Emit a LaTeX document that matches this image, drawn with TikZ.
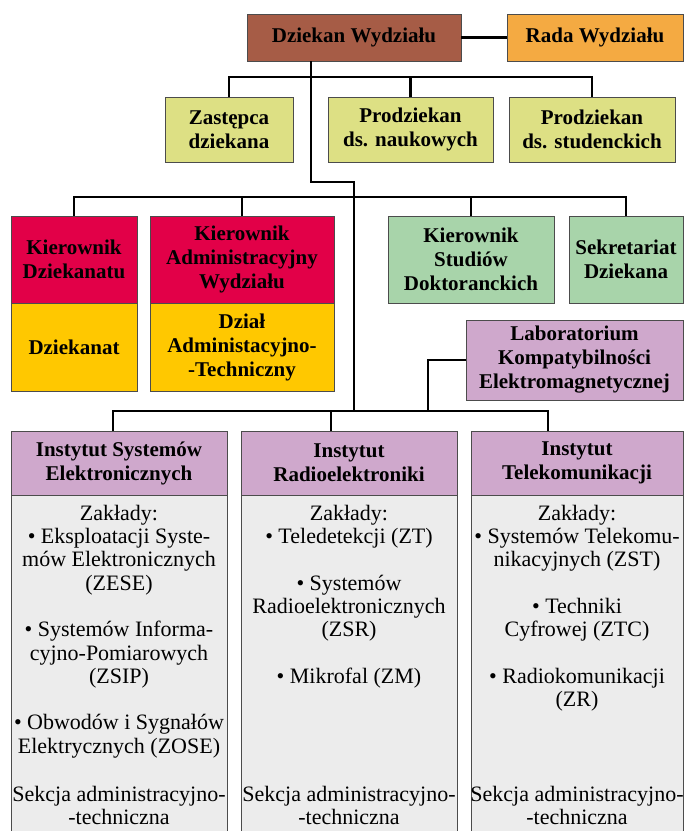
\documentclass[tikz,border=0pt]{standalone}
\usepackage{fontspec}
\setmainfont{Liberation Serif}
\definecolor{brownc}{RGB}{166,92,70}
\definecolor{orangec}{RGB}{244,170,66}
\definecolor{olivec}{RGB}{221,224,132}
\definecolor{redc}{RGB}{226,0,72}
\definecolor{yellowc}{RGB}{255,200,0}
\definecolor{greenc}{RGB}{168,212,170}
\definecolor{purplec}{RGB}{207,168,204}
\definecolor{grayc}{RGB}{236,236,236}
\begin{document}
\begin{tikzpicture}[x=1pt,y=-1pt,
  box/.style={draw=black!70, line width=0.9pt, outer sep=0pt, inner sep=1pt,
    align=center, anchor=north west, text=black,
    font=\fontsize{21}{24}\selectfont\bfseries},
  bodytext/.style={anchor=north, align=center, inner sep=0pt, text=black,
    font=\fontsize{22}{23.3}\selectfont},
  conn/.style={line width=2.4pt, black}]
\useasboundingbox (0,0) rectangle (684,831);
% top
\node[box,fill=brownc,minimum width=214pt,minimum height=47pt] (dziekan) at (247,14) {Dziekan Wydziału};
\node[box,fill=orangec,minimum width=176pt,minimum height=47pt] (rada) at (507,14) {Rada Wydziału};
\node[box,fill=olivec,minimum width=128pt,minimum height=65pt] (zast) at (165,97) {Zastępca\\dziekana};
\node[box,fill=olivec,minimum width=165pt,minimum height=65pt] (pnauk) at (328,97) {Prodziekan\\ds. naukowych};
\node[box,fill=olivec,minimum width=166pt,minimum height=65pt] (pstud) at (509,97) {Prodziekan\\ds. studenckich};
% second level
\node[box,fill=redc,minimum width=126pt,minimum height=87pt] (kdz) at (11,216) {Kierownik\\Dziekanatu};
\node[box,fill=yellowc,minimum width=126pt,minimum height=88pt] (dzt) at (11,303) {Dziekanat};
\node[box,fill=redc,minimum width=184pt,minimum height=87pt] (kadm) at (150,216) {Kierownik\\Administracyjny\\Wydziału};
\node[box,fill=yellowc,minimum width=184pt,minimum height=88pt] (dzial) at (150,303) {Dział\\Administacyjno-\\-Techniczny};
\node[box,fill=greenc,minimum width=166pt,minimum height=87pt] (ksd) at (388,216) {Kierownik\\Studiów\\Doktoranckich};
\node[box,fill=greenc,minimum width=114pt,minimum height=87pt] (sekr) at (569,216) {Sekretariat\\Dziekana};
\node[box,fill=purplec,minimum width=217pt,minimum height=80pt] (lab) at (466,320) {Laboratorium\\Kompatybilności\\Elektromagnetycznej};
% institutes
\node[box,fill=purplec,minimum width=216pt,minimum height=64pt] (i1h) at (11,431) {Instytut Systemów\\Elektronicznych};
\node[box,fill=purplec,minimum width=216pt,minimum height=64pt] (i2h) at (241,431) {Instytut\\Radioelektroniki};
\node[box,fill=purplec,minimum width=212pt,minimum height=64pt] (i3h) at (471,431) {Instytut\\Telekomunikacji};
\node[box,fill=grayc,minimum width=216pt,minimum height=345pt] (i1b) at (11,495) {};
\node[box,fill=grayc,minimum width=216pt,minimum height=345pt] (i2b) at (241,495) {};
\node[box,fill=grayc,minimum width=212pt,minimum height=345pt] (i3b) at (471,495) {};
\node[bodytext] (i1t) at (119,504) {\rule{0pt}{16pt}Zakłady:\\ • Eksploatacji Syste-\\ mów Elektronicznych\\ (ZESE)\\[23.3pt] • Systemów Informa-\\ cyjno-Pomiarowych\\ (ZSIP)\\[23.3pt] • Obwodów i Sygnałów\\ Elektrycznych (ZOSE)};
\node[bodytext] (i2t) at (349,504) {\rule{0pt}{16pt}Zakłady:\\ • Teledetekcji (ZT)\\[23.3pt] • Systemów\\ Radioelektronicznych\\ (ZSR)\\[23.3pt] • Mikrofal (ZM)};
\node[bodytext] (i3t) at (577,504) {\rule{0pt}{16pt}Zakłady:\\ • Systemów Telekomu-\\ nikacyjnych (ZST)\\[23.3pt] • Techniki\\ Cyfrowej (ZTC)\\[23.3pt] • Radiokomunikacji\\ (ZR)};
\node[bodytext] (i1s) at (119,785) {\rule{0pt}{16pt}Sekcja administracyjno-\\ -techniczna};
\node[bodytext] (i2s) at (349,785) {\rule{0pt}{16pt}Sekcja administracyjno-\\ -techniczna};
\node[bodytext] (i3s) at (577,785) {\rule{0pt}{16pt}Sekcja administracyjno-\\ -techniczna};
% junction coordinates
\coordinate (j1) at (311,182);
\coordinate (j2) at (354,182);
\coordinate (d1) at (113,411);
\coordinate (d2) at (331,411);
\coordinate (d3) at (548,411);
\coordinate (lj) at (428,411);
% connectors
\draw[conn] (dziekan.east) -- (rada.west);
\draw[conn] (dziekan.south -| j1) -- (j1) -- (j2) -- (j2 |- d1);
\draw[conn] (zast.north) -- ++(0,-20) -| (pstud.north);
\draw[conn] (pnauk.north) -- ++(0,-20);
\draw[conn] (kdz.north) -- ++(0,-19) -| (sekr.north);
\draw[conn] (kadm.north) -- ++(0,-19);
\draw[conn] (ksd.north) -- ++(0,-19);
\draw[conn] (d1 |- i1h.north) -- (d1) -- (d3) -- (d3 |- i3h.north);
\draw[conn] (d2) -- (d2 |- i2h.north);
\draw[conn] (lab.west) -| (lj);
\end{tikzpicture}
\end{document}
